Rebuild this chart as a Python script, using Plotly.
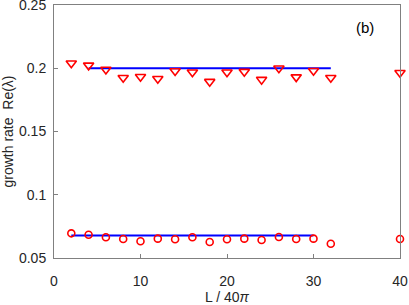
import plotly.graph_objects as go

L_vals = [2, 4, 6, 8, 10, 12, 14, 16, 18, 20, 22, 24, 26, 28, 30, 32, 40]
tri_vals = [0.204, 0.2023, 0.199, 0.1925, 0.1933, 0.1917, 0.1978, 0.1968, 0.1894,
            0.1968, 0.1973, 0.191, 0.2, 0.193, 0.198, 0.1925, 0.1965]
circ_vals = [0.0695, 0.0684, 0.0664, 0.065, 0.0632, 0.0653, 0.0648, 0.0664, 0.0626,
             0.0648, 0.0653, 0.0642, 0.0666, 0.065, 0.0653, 0.0613, 0.065]
upper_line_x = [4, 32]
upper_line_y = [0.2, 0.2]
lower_line_x = [2, 30]
lower_line_y = [0.0677, 0.0677]

FONT = "Liberation Sans, Arial, sans-serif"
TXT = "#262626"
AX = "#808080"

fig = go.Figure()
fig.add_trace(go.Scatter(x=upper_line_x, y=upper_line_y, mode="lines",
                         line=dict(color="#0000ff", width=2), showlegend=False))
fig.add_trace(go.Scatter(x=lower_line_x, y=lower_line_y, mode="lines",
                         line=dict(color="#0000ff", width=2), showlegend=False))
fig.add_trace(go.Scatter(x=L_vals, y=tri_vals, mode="markers",
                         marker=dict(symbol="triangle-down-open", size=9, color="#ff0000",
                                     line=dict(width=1.6, color="#ff0000")),
                         showlegend=False, cliponaxis=False))
fig.add_trace(go.Scatter(x=L_vals, y=circ_vals, mode="markers",
                         marker=dict(symbol="circle-open", size=7, color="#ff0000",
                                     line=dict(width=1.6, color="#ff0000")),
                         showlegend=False, cliponaxis=False))

pw = 409 - 54 - 9
ph = 305 - 5 - 47
fig.add_annotation(x=(365 - 54) / pw, y=(258 - 27) / ph, xref="paper", yref="paper",
                   xanchor="center", yanchor="middle",
                   text="(b)", showarrow=False,
                   font=dict(family=FONT, size=15, color="#000000"))

fig.update_layout(
    width=409, height=305,
    margin=dict(l=54, r=9, t=5, b=47),
    paper_bgcolor="white", plot_bgcolor="white",
    font=dict(family=FONT, size=14, color=TXT),
)

fig.update_xaxes(range=[0, 40], tickvals=[0, 10, 20, 30, 40], ticks="inside", ticklen=4,
                 tickcolor=AX, showline=True, linecolor=AX, linewidth=1, mirror=True,
                 showgrid=False, zeroline=False, ticklabelstandoff=10, automargin=False,
                 ticklabeloverflow="allow",
                 title=dict(text="L / 40<i>π</i>", standoff=6, font=dict(size=14)))
fig.update_yaxes(range=[0.05, 0.25], tickvals=[0.05, 0.1, 0.15, 0.2, 0.25],
                 ticktext=["0.05", "0.1", "0.15", "0.2", "0.25"], ticks="inside", ticklen=4,
                 tickcolor=AX, showline=True, linecolor=AX, linewidth=1, mirror=True,
                 showgrid=False, zeroline=False, ticklabelstandoff=4, automargin=False,
                 ticklabeloverflow="allow",
                 title=dict(text="growth rate  Re(λ)", standoff=2, font=dict(size=14)))

fig.write_html("out.html", config={"displayModeBar": False},
               post_script="document.body.style.margin='0';document.body.style.padding='0';")
